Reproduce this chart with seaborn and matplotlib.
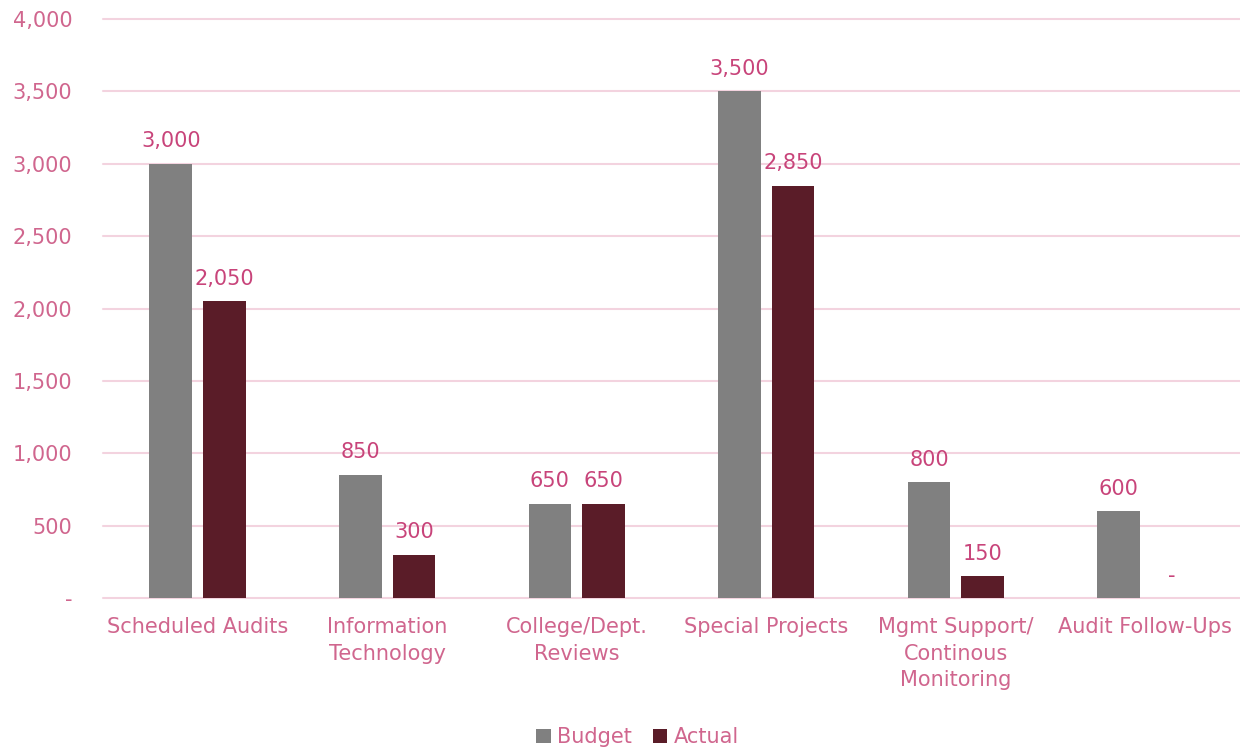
import matplotlib
matplotlib.use("Agg")
import matplotlib.pyplot as plt
import numpy as np
import pandas as pd
import seaborn as sns

# categories and values
categories = ["Scheduled Audits", "Information\nTechnology", "College/Dept.\nReviews",
              "Special Projects", "Mgmt Support/\nContinous\nMonitoring", "Audit Follow-Ups"]
budget = [3000, 850, 650, 3500, 800, 600]
actual = [2050, 300, 650, 2850, 150, 0]
series = ["Budget", "Actual"]

label_col = "#C8447A"
tick_col = "#D0668E"
grid_col = "#F3D3DF"

df = pd.DataFrame({
    "Category": categories * 2,
    "Series": ["Budget"] * len(categories) + ["Actual"] * len(categories),
    "Hours": budget + actual,
})

sns.set_style("white")
plt.rcParams["font.family"] = ["DejaVu Sans"]

fig = plt.figure(figsize=(12.4, 7.48), dpi=100)
ax = fig.add_axes([0.083, 0.2005, 0.917, 0.774])

sns.barplot(data=df, x="Category", y="Hours", hue="Series", hue_order=series,
            palette={"Budget": "#808080", "Actual": "#5A1C28"},
            width=0.565, gap=0.2, saturation=1, linewidth=0, ax=ax, legend=True)

# data labels
for cont in ax.containers:
    labels = [f"{v:,.0f}" if v > 0 else "-" for v in cont.datavalues]
    ax.bar_label(cont, labels=labels, padding=9, color=label_col, fontsize=15)

ax.set_ylim(0, 4000)
ax.set_xlim(-0.5, 5.5)
ax.set_yticks(np.arange(0, 4001, 500))
ax.set_yticklabels(["-"] + [f"{v:,}" for v in range(500, 4001, 500)])
ax.yaxis.grid(True, color=grid_col, linewidth=1.5)
for gl in ax.get_ygridlines():
    gl.set_clip_on(False)
ax.set_axisbelow(True)
for s in ax.spines.values():
    s.set_visible(False)
ax.tick_params(axis="both", length=0, colors=tick_col, labelsize=15)
ax.tick_params(axis="y", pad=22)
ax.tick_params(axis="x", pad=14)
plt.setp(ax.get_xticklabels(), linespacing=1.38)
ax.set_xlabel("")
ax.set_ylabel("")

ax.legend(loc="lower center", bbox_to_anchor=(0.47, -0.29), ncol=2, frameon=False,
          fontsize=15, labelcolor=tick_col, handlelength=0.7, handleheight=0.7,
          handletextpad=0.3, columnspacing=1.0)

fig.savefig("out.png", dpi=100)
